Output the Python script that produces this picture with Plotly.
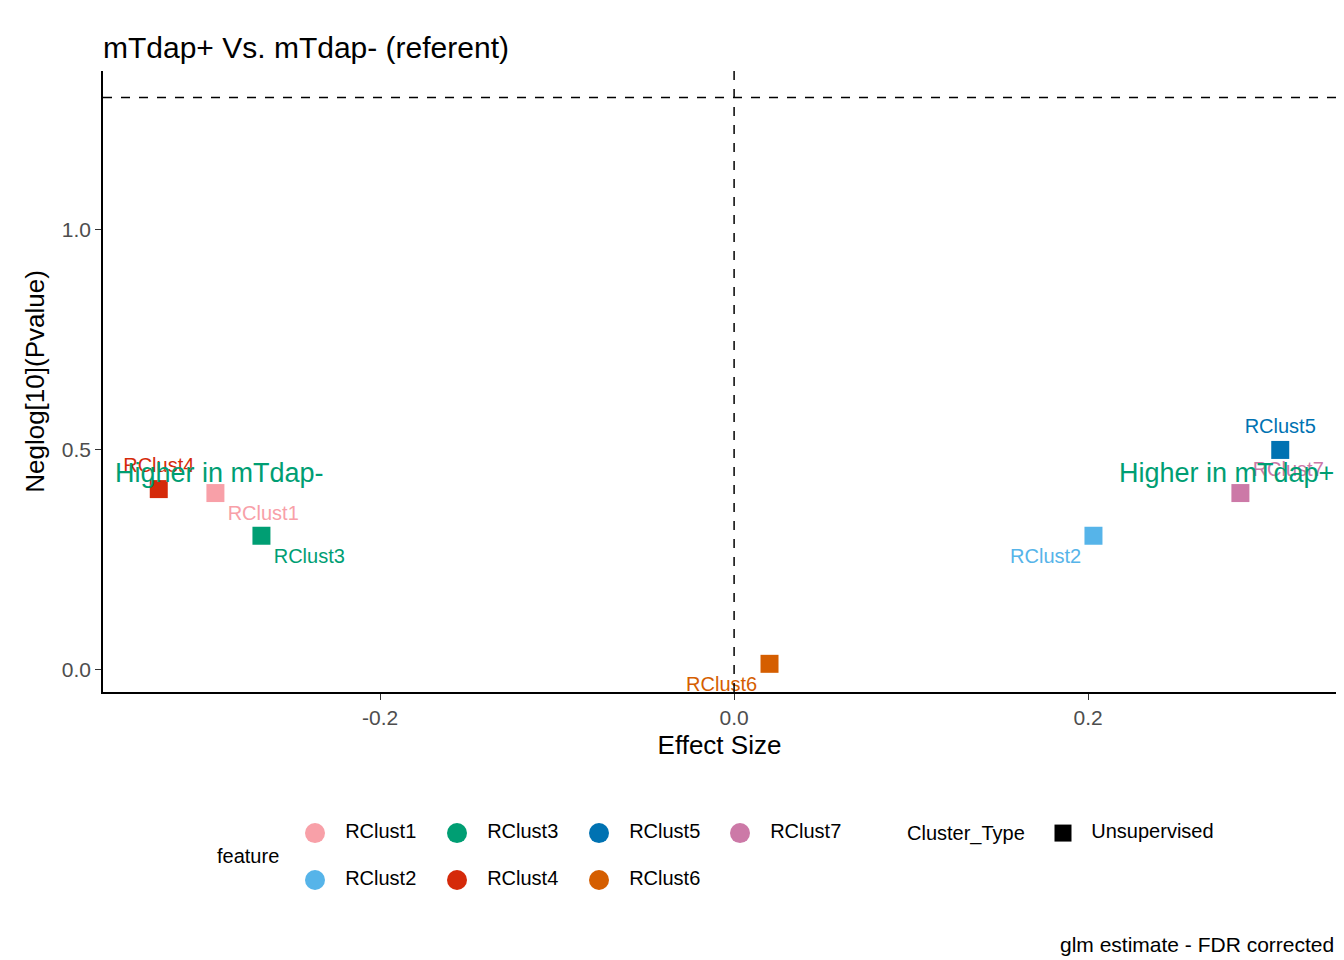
import plotly.graph_objects as go

features = ["RClust1", "RClust2", "RClust3", "RClust4", "RClust5", "RClust6", "RClust7"]
effect = [-0.293, 0.203, -0.267, -0.325, 0.3085, 0.020, 0.286]
neglogp = [0.402, 0.305, 0.305, 0.411, 0.500, 0.014, 0.402]
colors = ["#F8A0A8", "#56B4E9", "#009E73", "#D52A0A", "#0072B2", "#D55E00", "#CC79A7"]
label_pos = ["bottom right", "bottom left", "bottom right", "top center",
             "top center", "bottom left", "top right"]
# legend grid (column, row) in ggplot's column-major order
legend_col = [0, 0, 1, 1, 2, 2, 3]
legend_row = [0, 1, 0, 1, 0, 1, 0]
FONT = "Liberation Sans, Arial, sans-serif"

fig = go.Figure()
for i, f in enumerate(features):
    fig.add_trace(go.Scatter(
        x=[effect[i]], y=[neglogp[i]], mode="markers+text", text=[f],
        textposition=label_pos[i], textfont=dict(color=colors[i], size=20, family=FONT),
        marker=dict(symbol="square", size=18, color=colors[i]), showlegend=False))

# hand-drawn legend in a hidden axis below the plot
col_x = [212, 354, 496, 637]
row_y = [0.503, 0.314]
fig.add_trace(go.Scatter(
    x=[col_x[c] for c in legend_col], y=[row_y[r] for r in legend_row],
    mode="markers+text", text=["   " + f for f in features], textposition="middle right",
    textfont=dict(size=20, family=FONT, color="black"),
    marker=dict(symbol="circle", size=20, color=colors),
    xaxis="x2", yaxis="y2", showlegend=False, hoverinfo="skip"))
fig.add_trace(go.Scatter(
    x=[960], y=[row_y[0]], mode="markers+text", text=["   Unsupervised"],
    textposition="middle right", textfont=dict(size=20, family=FONT, color="black"),
    marker=dict(symbol="square", size=17, color="black"),
    xaxis="x2", yaxis="y2", showlegend=False, hoverinfo="skip"))
fig.add_annotation(x=145, y=0.41, xref="x2", yref="y2", text="feature", showarrow=False,
                   font=dict(size=20, family=FONT, color="black"))
fig.add_annotation(x=863, y=0.503, xref="x2", yref="y2", text="Cluster_Type", showarrow=False,
                   font=dict(size=20, family=FONT, color="black"))

fig.add_hline(y=1.301, line=dict(dash="dash", color="black", width=1.5))
fig.add_vline(x=0, line=dict(dash="dash", color="black", width=1.5))
fig.add_annotation(x=-0.351, y=0.448, text="Higher in mTdap-", showarrow=False,
                   xanchor="left", font=dict(size=27, color="#009E73", family=FONT))
fig.add_annotation(x=0.340, y=0.448, text="Higher in mTdap+", showarrow=False,
                   xanchor="right", font=dict(size=27, color="#009E73", family=FONT))
fig.add_annotation(x=1, y=0.0, xref="paper", yref="paper", text="glm estimate - FDR corrected",
                   showarrow=False, xanchor="right", yanchor="bottom",
                   font=dict(size=21, color="black", family=FONT))

axis_common = dict(showgrid=False, zeroline=False, showline=True, linecolor="black",
                   linewidth=1.5, ticks="outside", tickcolor="#333", ticklen=6,
                   tickfont=dict(size=21, color="#4d4d4d", family=FONT))
fig.update_xaxes(range=[-0.3565, 0.340], tickvals=[-0.2, 0, 0.2], ticktext=["-0.2", "0.0", "0.2"],
                 title=dict(text="Effect Size", font=dict(size=26, color="black", family=FONT),
                            standoff=8),
                 **axis_common)
fig.update_yaxes(range=[-0.05, 1.361], tickvals=[0, 0.5, 1.0], ticktext=["0.0", "0.5", "1.0"],
                 domain=[0.2999, 1],
                 title=dict(text="Neglog[10](Pvalue)", font=dict(size=26, color="black", family=FONT),
                            standoff=10),
                 **axis_common)

fig.update_layout(
    width=1344, height=960, plot_bgcolor="white", paper_bgcolor="white",
    margin=dict(l=95, r=16, t=63, b=10),
    showlegend=False,
    title=dict(text="mTdap+ Vs. mTdap- (referent)", xref="paper", x=0, xanchor="left", y=0.97,
               font=dict(size=30, color="black", family=FONT)),
    xaxis2=dict(domain=[0, 1], range=[0, 1233], visible=False, anchor="y2", fixedrange=True),
    yaxis2=dict(domain=[0, 0.28], range=[0, 1], visible=False, anchor="x2", fixedrange=True),
)
fig.write_html("out.html")
